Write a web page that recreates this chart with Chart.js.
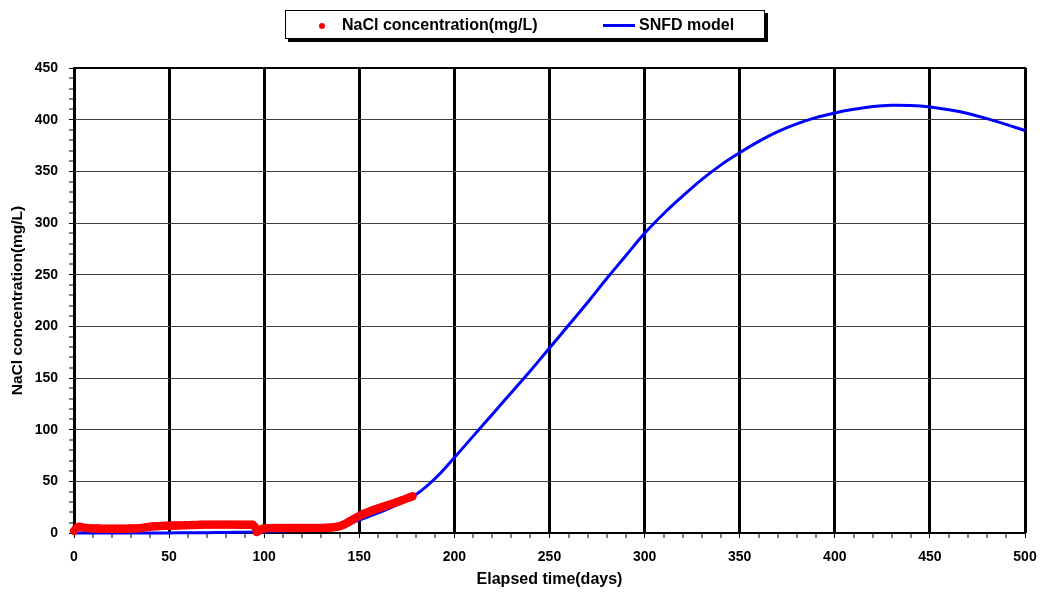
<!DOCTYPE html>
<html>
<head>
<meta charset="utf-8">
<script src="https://cdn.jsdelivr.net/npm/chart.js@4/dist/chart.umd.min.js"></script>
<style>
  body { margin: 0; background: #fff; }
  #wrap { position: relative; width: 1040px; height: 601px; }
  #legend {
    position: absolute; left: 285px; top: 10px; width: 478px; height: 27px;
    border: 1px solid #000; box-shadow: 3px 3px 0 #000; background: #fff;
    font: bold 16px Arial, "Liberation Sans", sans-serif; color: #000;
  }
  #legend .item { position: absolute; top: 0; height: 27px; line-height: 27px; white-space: nowrap; }
  #legend .mark { display: inline-block; vertical-align: middle; }
</style>
</head>
<body>
<div id="wrap">
  <canvas id="grafico" width="1040" height="601"></canvas>
  <div id="legend"></div>
</div>
<script>
// measured NaCl concentration, one reading per day
const diasMedidos = [
  0, 1, 2, 3, 4, 5, 6, 7, 8, 9,
  10, 11, 12, 13, 14, 15, 16, 17, 18, 19,
  20, 21, 22, 23, 24, 25, 26, 27, 28, 29,
  30, 31, 32, 33, 34, 35, 36, 37, 38, 39,
  40, 41, 42, 43, 44, 45, 46, 47, 48, 49,
  50, 51, 52, 53, 54, 55, 56, 57, 58, 59,
  60, 61, 62, 63, 64, 65, 66, 67, 68, 69,
  70, 71, 72, 73, 74, 75, 76, 77, 78, 79,
  80, 81, 82, 83, 84, 85, 86, 87, 88, 89,
  90, 91, 92, 93, 94, 95, 96, 97, 98, 99,
  100, 101, 102, 103, 104, 105, 106, 107, 108, 109,
  110, 111, 112, 113, 114, 115, 116, 117, 118, 119,
  120, 121, 122, 123, 124, 125, 126, 127, 128, 129,
  130, 131, 132, 133, 134, 135, 136, 137, 138, 139,
  140, 141, 142, 143, 144, 145, 146, 147, 148, 149,
  150, 151, 152, 153, 154, 155, 156, 157, 158, 159,
  160, 161, 162, 163, 164, 165, 166, 167, 168, 169,
  170, 171, 172, 173, 174, 175, 176, 177, 178
];
const naclMedido = [
  2.0, 4.5, 5.8, 6.0, 5.6, 5.2, 5.0, 4.8, 4.6, 4.5,
  4.4, 4.4, 4.3, 4.3, 4.2, 4.2, 4.2, 4.2, 4.1, 4.1,
  4.1, 4.1, 4.1, 4.1, 4.1, 4.2, 4.2, 4.2, 4.2, 4.3,
  4.3, 4.4, 4.4, 4.5, 4.6, 4.8, 5.0, 5.3, 5.6, 5.9,
  6.1, 6.3, 6.4, 6.5, 6.6, 6.7, 6.8, 6.9, 7.0, 7.0,
  7.1, 7.1, 7.2, 7.2, 7.3, 7.3, 7.4, 7.4, 7.5, 7.5,
  7.6, 7.6, 7.7, 7.7, 7.8, 7.9, 8.0, 8.0, 8.1, 8.1,
  8.1, 8.1, 8.1, 8.1, 8.1, 8.1, 8.1, 8.1, 8.1, 8.1,
  8.1, 8.1, 8.1, 8.1, 8.1, 8.1, 8.0, 8.0, 8.0, 8.0,
  8.0, 8.0, 8.0, 8.0, 8.0, 6.0, 1.0, 2.0, 3.2, 4.2,
  4.5, 4.6, 4.7, 4.7, 4.8, 4.8, 4.8, 4.8, 4.8, 4.8,
  4.8, 4.8, 4.8, 4.8, 4.9, 4.9, 4.9, 4.9, 4.9, 4.9,
  4.9, 4.9, 4.9, 4.9, 4.9, 5.0, 5.0, 5.0, 5.0, 5.0,
  5.0, 5.0, 5.1, 5.1, 5.2, 5.3, 5.5, 5.7, 6.0, 6.3,
  6.8, 7.5, 8.3, 9.2, 10.2, 11.3, 12.4, 13.5, 14.6, 15.6,
  16.6, 17.5, 18.4, 19.2, 19.9, 20.6, 21.3, 22.0, 22.7, 23.3,
  24.0, 24.6, 25.2, 25.8, 26.4, 27.0, 27.6, 28.2, 28.8, 29.4,
  30.0, 30.7, 31.4, 32.1, 32.8, 33.5, 34.2, 34.9, 35.5
];

// SNFD model curve
const diasModelo = [
  0, 10, 20, 30, 40, 50, 60, 70, 80, 90,
  100, 110, 120, 130, 140, 150, 160, 170, 180, 190,
  200, 210, 220, 230, 240, 250, 260, 270, 280, 290,
  300, 310, 320, 330, 340, 350, 360, 370, 380, 390,
  400, 410, 420, 430, 440, 450, 460, 470, 480, 490, 500
];
const naclModelo = [
  0, 0, 0, 0, 0, 0.1, 0.2, 0.3, 0.5, 0.8,
  1.3, 2, 3, 4.5, 7, 12.5, 19.5, 27.5, 37.5, 53,
  73, 94, 115, 136, 157, 179, 201, 223, 246, 268,
  290, 309, 326, 342, 356, 368, 379, 388.5, 396, 402,
  406.5, 410, 412.8, 414, 413.6, 412.2, 409.6, 406, 401, 395.5, 389.5
];

const rotulos = ['NaCl concentration(mg/L)', 'SNFD model'];
const tituloX = 'Elapsed time(days)';
const tituloY = 'NaCl concentration(mg/L)';

const fonte = 'Arial, "Liberation Sans", sans-serif';

function pares(xs, ys) {
  return xs.map((x, i) => ({ x: x, y: ys[i] }));
}

// moldura preta em volta da area do grafico
const moldura = {
  id: 'moldura',
  beforeDatasetsDraw(chart) {
    const { ctx, chartArea: a } = chart;
    ctx.save();
    ctx.strokeStyle = '#000';
    ctx.lineWidth = 2;
    ctx.strokeRect(a.left, a.top, a.right - a.left, a.bottom - a.top);
    ctx.restore();
  }
};

let dados = {
  datasets: [
    {
      label: rotulos[0],
      data: pares(diasMedidos, naclMedido),
      showLine: false,
      pointRadius: 4.2,
      pointBorderWidth: 0,
      pointBackgroundColor: '#ff0000',
      borderColor: '#ff0000',
      backgroundColor: '#ff0000',
      clip: false
    },
    {
      label: rotulos[1],
      data: pares(diasModelo, naclModelo),
      borderColor: '#0000ff',
      backgroundColor: '#0000ff',
      borderWidth: 3,
      pointRadius: 0,
      tension: 0.4,
      clip: false
    }
  ]
};

let settings = {
  responsive: false,
  animation: false,
  layout: { padding: { left: 0, top: 68, right: 15, bottom: 0 } },
  plugins: { legend: { display: false }, tooltip: { enabled: false } },
  scales: {
    x: {
      type: 'linear', min: 0, max: 500,
      border: { display: false },
      grid: {
        color: '#000',
        lineWidth: c => (c.tick && c.tick.value % 50 === 0 ? 3 : 0),
        tickColor: '#000', tickWidth: 1, tickLength: 5
      },
      ticks: {
        stepSize: 10, autoSkip: false, maxRotation: 0, padding: 11, color: '#000',
        font: { family: fonte, size: 14, weight: 'bold' },
        callback: v => (v % 50 === 0 ? v : '')
      },
      title: {
        display: true, text: tituloX, color: '#000',
        font: { family: fonte, size: 16, weight: 'bold' },
        padding: { top: 0, bottom: 12 }
      },
      afterFit(s) {
        s.height = 68;
        s.paddingLeft = 0;
        s.paddingRight = 0;
      }
    },
    y: {
      min: 0, max: 450,
      border: { display: false },
      grid: {
        color: '#404040',
        lineWidth: c => (c.tick && c.tick.value % 50 === 0 ? 1 : 0),
        tickColor: '#000', tickWidth: 1, tickLength: 5
      },
      ticks: {
        stepSize: 10, autoSkip: false, padding: 11, color: '#000',
        font: { family: fonte, size: 14, weight: 'bold' },
        callback: v => (v % 50 === 0 ? v : '')
      },
      title: {
        display: true, text: tituloY, color: '#000',
        font: { family: fonte, size: 15.5, weight: 'bold' },
        padding: { top: 8, bottom: 0 }
      },
      afterFit(s) { s.width = 74; }
    }
  }
};

let context = document.getElementById('grafico').getContext('2d');
let grafico = new Chart(context, { type: 'line', data: dados, options: settings, plugins: [moldura] });

// legenda em caixa com sombra, montada a partir dos datasets
const legenda = document.getElementById('legend');
const posLegenda = [
  { left: 33, gap: 17, tipo: 'ponto' },
  { left: 317, gap: 4, tipo: 'linha' }
];
grafico.data.datasets.forEach(function (ds, i) {
  const p = posLegenda[i];
  const item = document.createElement('div');
  item.className = 'item';
  item.style.left = p.left + 'px';
  const marca = document.createElement('span');
  marca.className = 'mark';
  if (p.tipo === 'ponto') {
    marca.style.cssText = 'width:6px;height:6px;border-radius:50%;background:' + ds.pointBackgroundColor;
  } else {
    marca.style.cssText = 'width:32px;height:3px;background:' + ds.borderColor;
  }
  const texto = document.createElement('span');
  texto.textContent = ds.label;
  texto.style.marginLeft = p.gap + 'px';
  item.appendChild(marca);
  item.appendChild(texto);
  legenda.appendChild(item);
});
</script>
</body>
</html>
